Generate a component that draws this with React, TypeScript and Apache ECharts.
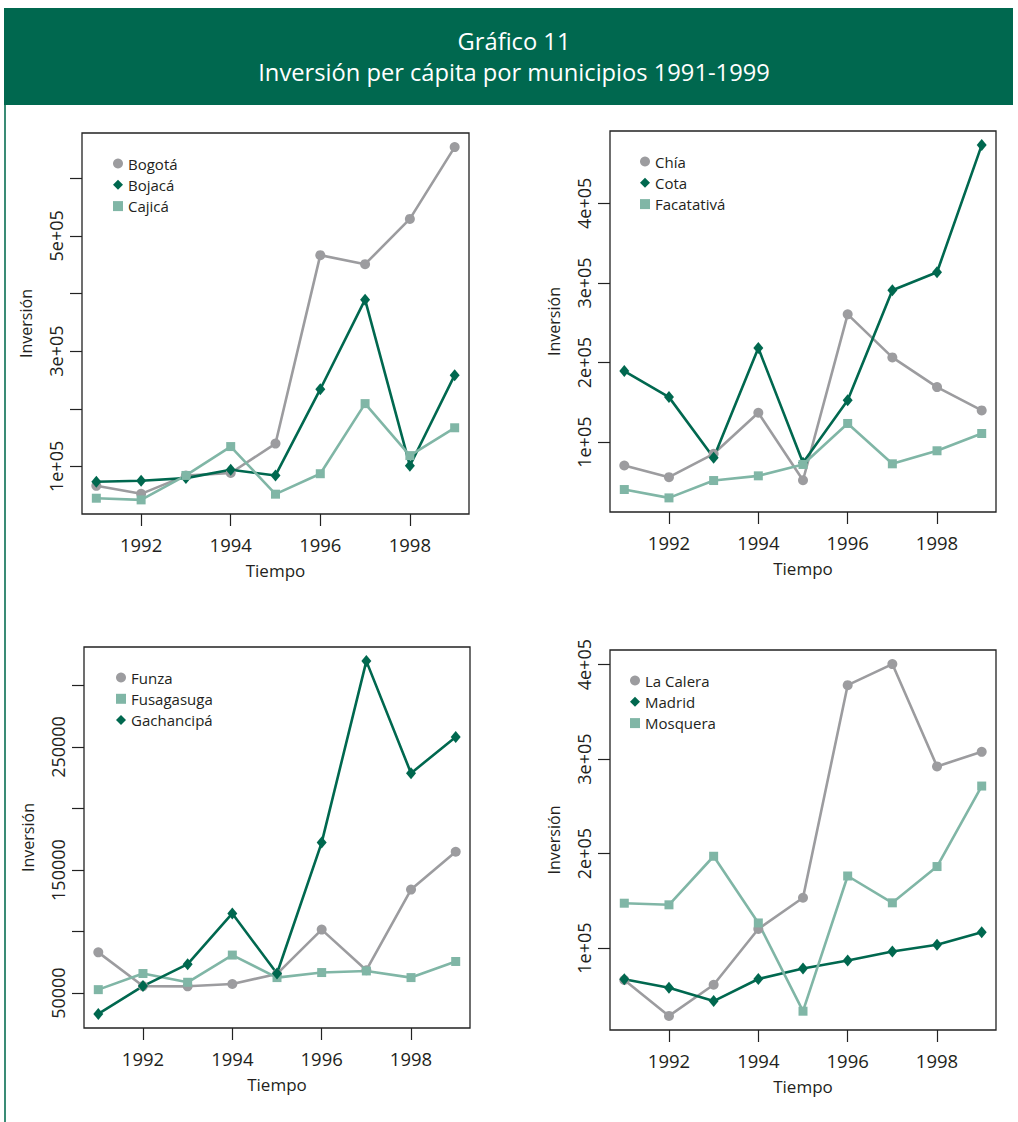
import React, { useEffect, useRef } from "react";
import * as echarts from "echarts";

const years = [1991, 1992, 1993, 1994, 1995, 1996, 1997, 1998, 1999];
const xTickValues = [1992, 1994, 1996, 1998];

// Panel 1
const bogota = [66300, 52400, 84000, 88500, 139600, 466500, 450800, 529300, 653900];
const bojaca = [73300, 75000, 79700, 94200, 84300, 233900, 389200, 101200, 258300];
const cajica = [44800, 41900, 84300, 134400, 51800, 87300, 208900, 118700, 167000];
// Panel 2
const chia = [70700, 56000, 85400, 137000, 52200, 260600, 206500, 169200, 139900];
const cota = [189300, 156600, 80400, 218200, 74100, 152800, 290800, 313500, 473200];
const facatativa = [40500, 30000, 51800, 57700, 72000, 123500, 72800, 89200, 110900];
// Panel 3
const funza = [83100, 55700, 55500, 57400, 65600, 101600, 68600, 134100, 164900];
const fusagasuga = [52800, 65900, 58800, 80900, 62600, 66700, 68000, 62600, 75700];
const gachancipa = [33100, 55700, 73500, 114700, 65900, 172300, 319800, 228700, 258200];
// Panel 4
const laCalera = [66200, 28200, 61200, 120200, 153300, 378300, 400600, 292300, 307700];
const madrid = [67000, 58000, 43900, 67300, 78300, 86900, 96400, 103500, 116700];
const mosquera = [147500, 145800, 197200, 126600, 33200, 176300, 147900, 186300, 271500];

// Y axis ticks and labels
const yTicks1 = [100000, 200000, 300000, 400000, 500000, 600000];
const yLabels1 = [100000, 300000, 500000];
const yTicks2 = [100000, 200000, 300000, 400000];
const yLabels2 = [100000, 200000, 300000, 400000];
const yTicks3 = [50000, 100000, 150000, 200000, 250000, 300000];
const yLabels3 = [50000, 150000, 250000];
const yTicks4 = [100000, 200000, 300000, 400000];
const yLabels4 = [100000, 200000, 300000, 400000];

const titleLine1 = "Gráfico 11";
const titleLine2 = "Inversión per cápita por municipios 1991-1999";

type Kind = "gray" | "dark" | "teal";
const panels: {
  series: { name: string; values: number[]; kind: Kind }[];
  yTicks: number[];
  yLabels: number[];
  sci: boolean;
}[] = [
  {
    series: [
      { name: "Bogotá", values: bogota, kind: "gray" },
      { name: "Bojacá", values: bojaca, kind: "dark" },
      { name: "Cajicá", values: cajica, kind: "teal" },
    ],
    yTicks: yTicks1,
    yLabels: yLabels1,
    sci: true,
  },
  {
    series: [
      { name: "Chía", values: chia, kind: "gray" },
      { name: "Cota", values: cota, kind: "dark" },
      { name: "Facatativá", values: facatativa, kind: "teal" },
    ],
    yTicks: yTicks2,
    yLabels: yLabels2,
    sci: true,
  },
  {
    series: [
      { name: "Funza", values: funza, kind: "gray" },
      { name: "Fusagasuga", values: fusagasuga, kind: "teal" },
      { name: "Gachancipá", values: gachancipa, kind: "dark" },
    ],
    yTicks: yTicks3,
    yLabels: yLabels3,
    sci: false,
  },
  {
    series: [
      { name: "La Calera", values: laCalera, kind: "gray" },
      { name: "Madrid", values: madrid, kind: "dark" },
      { name: "Mosquera", values: mosquera, kind: "teal" },
    ],
    yTicks: yTicks4,
    yLabels: yLabels4,
    sci: true,
  },
];

// layout (pixels)
const gridBoxes = [
  { left: 82, top: 133, width: 387, height: 381 },
  { left: 610, top: 131, width: 386, height: 381 },
  { left: 84, top: 647, width: 386, height: 381 },
  { left: 610, top: 650, width: 386, height: 380 },
];
const legendPos = [
  { left: 113, top: 156 },
  { left: 640, top: 154 },
  { left: 116, top: 670 },
  { left: 630, top: 673 },
];

const COLORS: Record<Kind, string> = {
  gray: "#9c9c9f",
  dark: "#00684f",
  teal: "#80b6a6",
};
const SYMBOL: Record<Kind, string> = { gray: "circle", dark: "diamond", teal: "rect" };
const SYMBOL_SIZE: Record<Kind, any> = { gray: 10, dark: [10, 12], teal: 9 };

const FONT = "'Open Sans', 'Noto Sans', sans-serif";
const TEXT = "#231f20";

function pad(values: number[], frac: number) {
  const mn = Math.min(...values);
  const mx = Math.max(...values);
  const r = mx - mn;
  return [mn - r * frac, mx + r * frac];
}

function sciFmt(v: number) {
  const e = Math.floor(Math.log10(v));
  const m = v / Math.pow(10, e);
  return `${m}e+${String(e).padStart(2, "0")}`;
}

export default function App() {
  const ref = useRef<HTMLDivElement>(null);
  useEffect(() => {
    if (!ref.current) return;
    const chart = echarts.init(ref.current, undefined, { renderer: "svg" });

    const [xMin, xMax] = pad(years, 0.04);
    const grid: any[] = [];
    const xAxis: any[] = [];
    const yAxis: any[] = [];
    const series: any[] = [];
    const legend: any[] = [];

    panels.forEach((p, i) => {
      grid.push({
        ...gridBoxes[i],
        show: true,
        borderColor: "#222",
        borderWidth: 1.3,
        backgroundColor: "transparent",
        containLabel: false,
      });
      xAxis.push({
        type: "value",
        gridIndex: i,
        min: xMin,
        max: xMax,
        axisLine: { show: false },
        splitLine: { show: false },
        axisTick: {
          show: true,
          length: 12,
          customValues: xTickValues,
          lineStyle: { color: "#222", width: 1.2 },
        },
        axisLabel: {
          customValues: xTickValues,
          margin: 21,
          fontSize: 18.5,
          fontFamily: FONT,
          color: TEXT,
          formatter: (v: number) => String(v),
        },
        name: "Tiempo",
        nameLocation: "middle",
        nameGap: 48,
        nameTextStyle: { fontSize: 17, fontFamily: FONT, color: TEXT },
      });
      const all = p.series.flatMap((s) => s.values);
      const [yMin, yMax] = pad(all, 0.04);
      yAxis.push({
        type: "value",
        gridIndex: i,
        min: yMin,
        max: yMax,
        axisLine: { show: false },
        splitLine: { show: false },
        axisTick: {
          show: true,
          length: 12,
          customValues: p.yTicks,
          lineStyle: { color: "#222", width: 1.2 },
        },
        axisLabel: {
          customValues: p.yLabels,
          rotate: 90,
          margin: 17,
          fontSize: 18,
          fontFamily: FONT,
          color: TEXT,
          formatter: (v: number) => (p.sci ? sciFmt(v) : String(v)),
        },
        name: "Inversión",
        nameLocation: "middle",
        nameGap: 48,
        nameTextStyle: { fontSize: 16, fontFamily: FONT, color: TEXT },
      });
      p.series.forEach((s) => {
        series.push({
          type: "line",
          name: s.name,
          xAxisIndex: i,
          yAxisIndex: i,
          data: years.map((y, k) => [y, s.values[k]]),
          symbol: SYMBOL[s.kind],
          symbolSize: SYMBOL_SIZE[s.kind],
          showAllSymbol: true,
          color: COLORS[s.kind],
          itemStyle: { color: COLORS[s.kind] },
          lineStyle: { color: COLORS[s.kind], width: 2.6 },
        });
      });
      legend.push({
        orient: "vertical",
        left: legendPos[i].left,
        top: legendPos[i].top,
        padding: 0,
        itemWidth: 10,
        itemHeight: 10,
        itemGap: 6.3,
        selectedMode: false,
        textStyle: { fontSize: 15, fontFamily: FONT, color: TEXT },
        data: p.series.map((s) => ({ name: s.name, icon: SYMBOL[s.kind] })),
      });
    });

    chart.setOption({
      animation: false,
      backgroundColor: "#ffffff",
      grid,
      xAxis,
      yAxis,
      series,
      legend,
      graphic: [
        {
          type: "rect",
          shape: { x: 4, y: 8, width: 1009, height: 97 },
          style: { fill: "#00684f" },
          silent: true,
        },
        {
          type: "line",
          shape: { x1: 5, y1: 105, x2: 5, y2: 1122 },
          style: { stroke: "#3a8c76", lineWidth: 2 },
          silent: true,
        },
        {
          type: "text",
          x: 514,
          y: 41,
          style: {
            text: titleLine1,
            fill: "#ffffff",
            fontSize: 23.7,
            fontFamily: FONT,
            align: "center",
            verticalAlign: "middle",
          },
          silent: true,
        },
        {
          type: "text",
          x: 514,
          y: 71.5,
          style: {
            text: titleLine2,
            fill: "#ffffff",
            fontSize: 23.7,
            fontFamily: FONT,
            align: "center",
            verticalAlign: "middle",
          },
          silent: true,
        },
      ],
    });
    return () => chart.dispose();
  }, []);
  return (
    <div
      ref={ref}
      style={{ position: "absolute", left: 0, top: 0, width: 1018, height: 1122 }}
    />
  );
}
